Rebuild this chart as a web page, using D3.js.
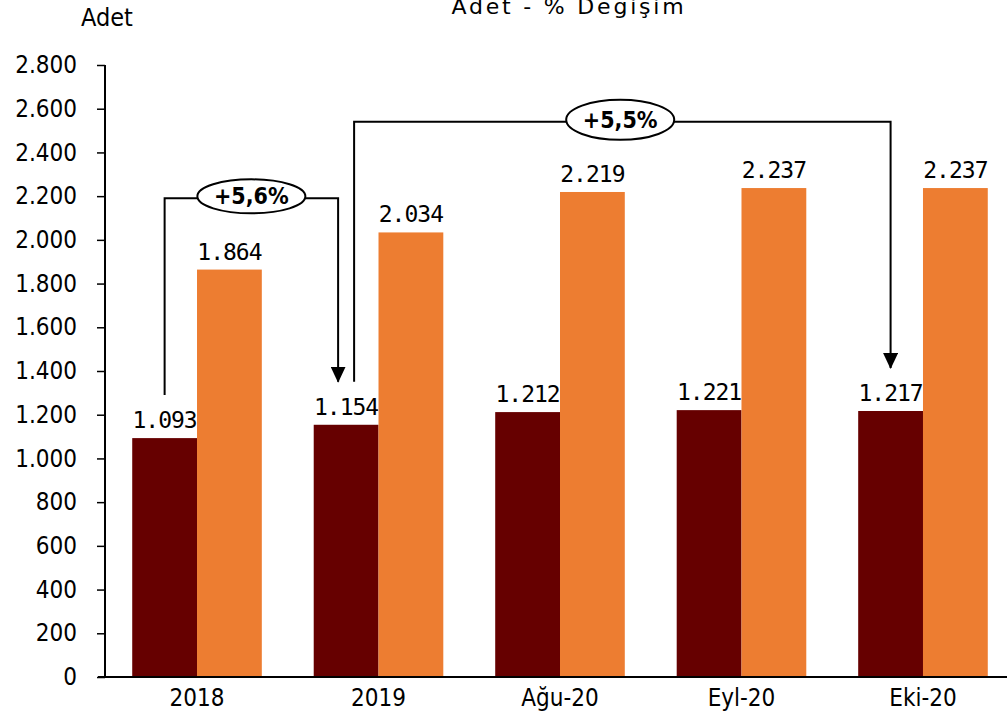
<!DOCTYPE html>
<meta charset="utf-8">
<style>
  body { margin: 0; background: #fff; }
  text { fill: #000; }
</style>
<svg width="1007" height="716"></svg>
<script src="https://cdn.jsdelivr.net/npm/d3@7"></script>
<script>

    var categories = ["2018", "2019", "Ağu-20", "Eyl-20", "Eki-20"];
    var darkValues = [1093, 1154, 1212, 1221, 1217];
    var orangeValues = [1864, 2034, 2219, 2237, 2237];
    var yTicks = [0, 200, 400, 600, 800, 1000, 1200, 1400, 1600, 1800, 2000, 2200, 2400, 2600, 2800];
    // change brackets: from category, to category, level of the horizontal line, label
    var changes = [
        {from: 0, to: 1, level: 2190, label: "+5,6%"},
        {from: 1, to: 4, level: 2540, label: "+5,5%"}
    ];

    var svg = d3.select("svg"),
            margin = {top: 65, left: 105, bottom: 39, right: -8},
            width = +svg.attr("width") - margin.left - margin.right,
            height = +svg.attr("height") - margin.top - margin.bottom;

    var tr = d3.formatLocale({decimal: ",", thousands: ".", grouping: [3], currency: ["", ""]});
    var fmt = tr.format(",d");

    var x = d3.scaleBand()
            .domain(categories)
            .range([0, width])
            .paddingInner(0.286)
            .paddingOuter(0.15);

    var sub = d3.scaleBand()
            .domain(["dark", "orange"])
            .range([0, x.bandwidth()]);

    var y = d3.scaleLinear()
            .domain([0, 2800])
            .range([height, 0]);

    var g = svg.append("g")
            .attr("transform", "translate(" + margin.left + "," + margin.top + ")");

    // titles
    svg.append("text")
            .attr("x", 107).attr("y", 26)
            .attr("text-anchor", "middle")
            .style("font", "25px 'DejaVu Sans Condensed'")
            .text("Adet");

    svg.append("text")
            .attr("x", 569).attr("y", 14)
            .attr("text-anchor", "middle")
            .style("font", "22px 'DejaVu Sans'")
            .style("letter-spacing", "2.8px")
            .text("Adet - % Degişim");

    // bars
    var series = [
        {key: "dark", values: darkValues, color: "#660000"},
        {key: "orange", values: orangeValues, color: "#ED7D31"}
    ];

    series.forEach(function(s) {
        g.selectAll(".bar-" + s.key)
                .data(s.values)
                .enter().append("rect")
                .attr("class", "bar-" + s.key)
                .attr("x", (d, i) => x(categories[i]) + sub(s.key))
                .attr("y", d => y(d))
                .attr("width", sub.bandwidth())
                .attr("height", d => height - y(d))
                .attr("fill", s.color);

        g.selectAll(".lbl-" + s.key)
                .data(s.values)
                .enter().append("text")
                .attr("class", "lbl-" + s.key)
                .attr("x", (d, i) => x(categories[i]) + sub(s.key) + sub.bandwidth() / 2)
                .attr("y", d => y(d) - 10)
                .attr("text-anchor", "middle")
                .style("font", "23px 'DejaVu Sans Mono'")
                .style("letter-spacing", "-1px")
                .text(d => fmt(d));
    });

    // y axis
    var yAxis = g.append("g")
            .call(d3.axisLeft(y).tickValues(yTicks).tickFormat(fmt).tickSize(8).tickPadding(20));
    yAxis.select(".domain").attr("stroke-width", 2).attr("d", "M0," + y(2800) + "V" + height);
    yAxis.selectAll(".tick line").attr("stroke-width", 1.5);
    yAxis.selectAll("text").style("font", "24px 'DejaVu Sans Condensed'").attr("fill", "#000");

    // x axis
    var xAxis = g.append("g")
            .attr("transform", "translate(0," + height + ")")
            .call(d3.axisBottom(x).tickSize(0).tickPadding(12));
    xAxis.select(".domain").attr("stroke-width", 2).attr("d", "M-7,0H" + (width + 10));
    xAxis.selectAll("text").style("font", "24px 'DejaVu Sans Condensed'").attr("fill", "#000");

    // change brackets with arrows
    svg.append("defs").append("marker")
            .attr("id", "arrow")
            .attr("viewBox", "0 0 16 15")
            .attr("refX", 15).attr("refY", 7.5)
            .attr("markerWidth", 16).attr("markerHeight", 15)
            .attr("markerUnits", "userSpaceOnUse")
            .attr("orient", "auto")
            .append("path")
            .attr("d", "M0,0L16,7.5L0,15Z")
            .attr("fill", "#000");

    var darkCenter = i => x(categories[i]) + sub("dark") + sub.bandwidth() / 2;

    changes.forEach(function(c, k) {
        var x0 = darkCenter(c.from) + (k === 0 ? 0 : 8);
        var x1 = darkCenter(c.to) - (k === 0 ? 8 : 0);
        var y0 = y(darkValues[c.from]) - 43;
        var y1 = y(darkValues[c.to]) - 43;
        var yl = y(c.level);

        g.append("path")
                .attr("d", "M" + x0 + "," + y0 + "V" + yl + "H" + x1 + "V" + y1)
                .attr("fill", "none")
                .attr("stroke", "#000")
                .attr("stroke-width", 2)
                .attr("marker-end", "url(#arrow)");

        var cx = (x0 + x1) / 2;
        if (k === 1) cx = x0 + (x1 - x0) * 0.496;
        g.append("ellipse")
                .attr("cx", cx).attr("cy", yl - 2)
                .attr("rx", 54).attr("ry", k === 0 ? 17 : 20)
                .attr("fill", "#fff")
                .attr("stroke", "#000")
                .attr("stroke-width", 2);

        g.append("text")
                .attr("x", cx).attr("y", yl + 6)
                .attr("text-anchor", "middle")
                .style("font", "bold 23px 'DejaVu Sans Condensed'")
                .text(c.label);
    });

</script>
